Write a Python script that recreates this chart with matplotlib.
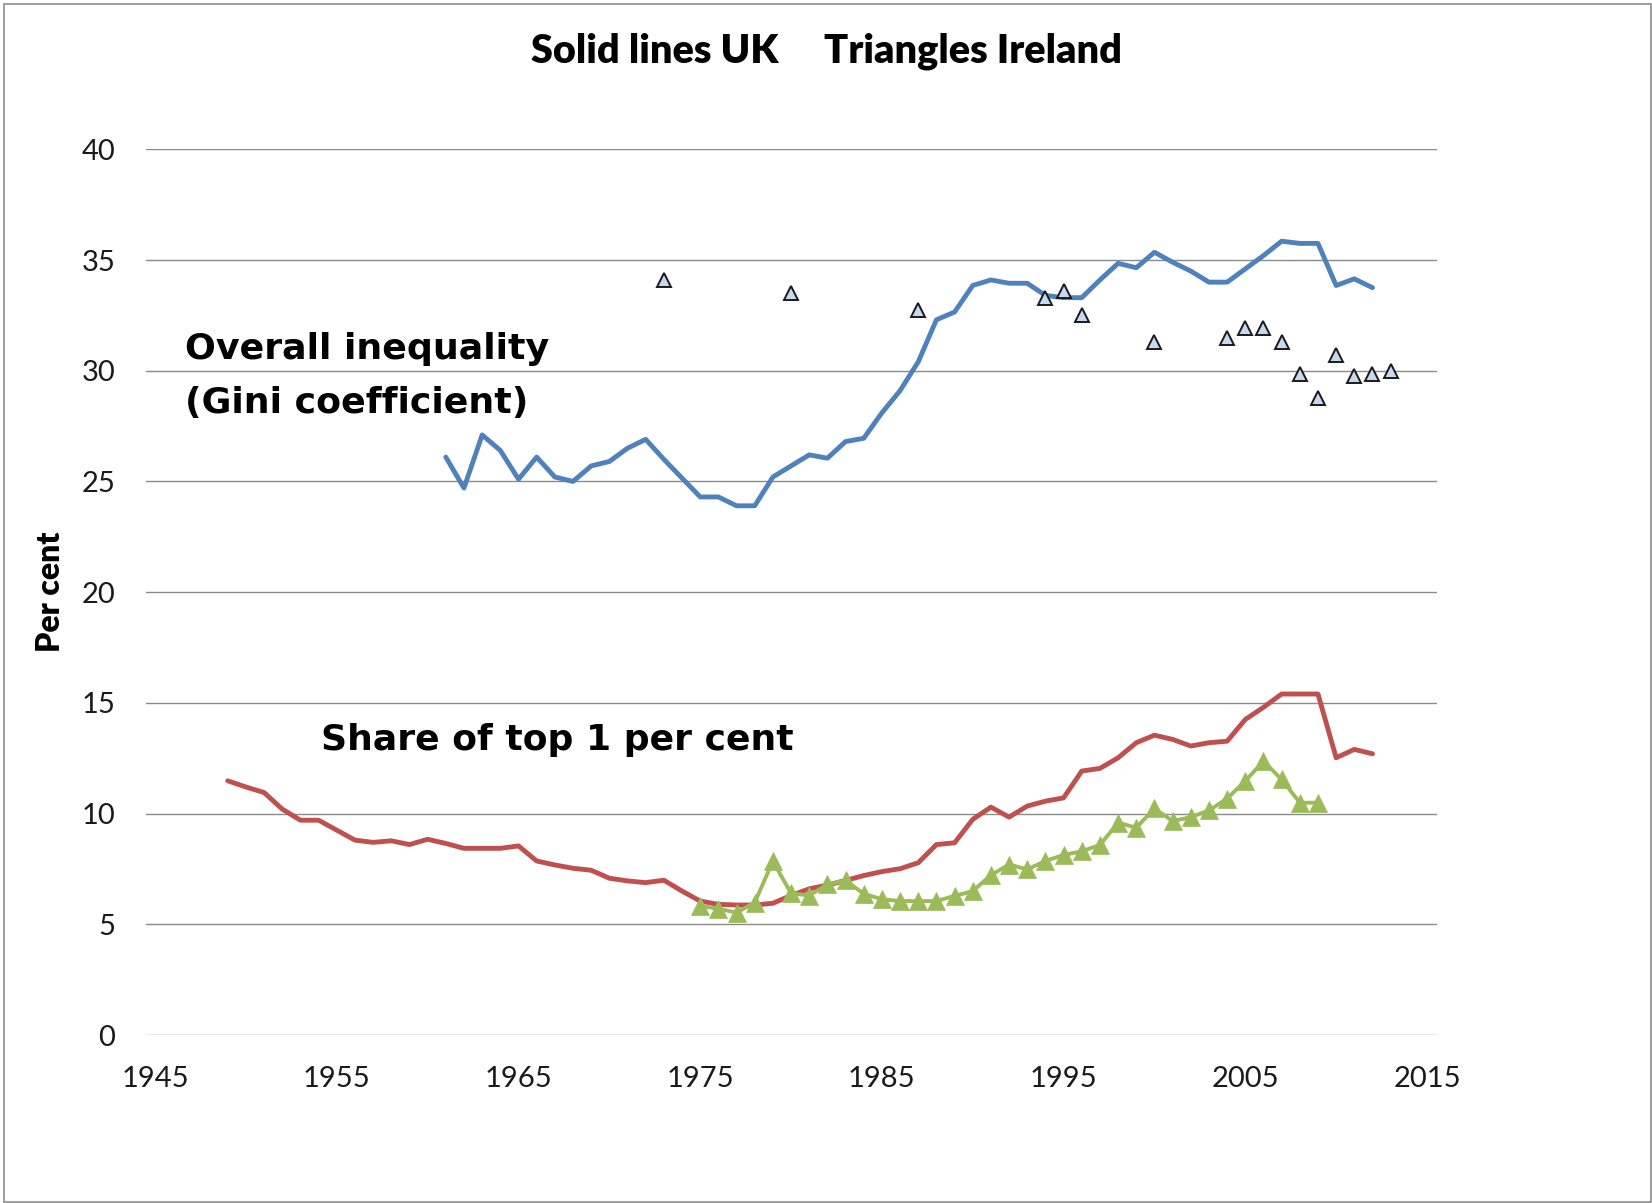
import matplotlib
matplotlib.use("Agg")
import matplotlib.pyplot as plt
from matplotlib.patches import Rectangle

# UK Gini coefficient, 1961-2012
uk_gini_years = list(range(1961, 2013))
uk_gini = [26.1, 24.7, 27.1, 26.4, 25.1, 26.1, 25.2, 25.0, 25.7, 25.9,
           26.5, 26.9, 26.0, 25.15, 24.3, 24.3, 23.9, 23.9, 25.2, 25.7,
           26.2, 26.05, 26.8, 26.95, 28.1, 29.1, 30.4, 32.3, 32.65, 33.85,
           34.1, 33.95, 33.95, 33.4, 33.3, 33.3, 34.1, 34.85, 34.65, 35.35,
           34.9, 34.5, 34.0, 34.0, 34.6, 35.2, 35.85, 35.75, 35.75, 33.85,
           34.15, 33.75]

# Ireland Gini coefficient (triangles)
ie_gini_years = [1973, 1980, 1987, 1994, 1995, 1996, 2000, 2004, 2005, 2006,
                 2007, 2008, 2009, 2010, 2011, 2012, 2013]
ie_gini = [34.1, 33.5, 32.75, 33.3, 33.6, 32.5, 31.3, 31.5, 31.95, 31.95,
           31.3, 29.85, 28.75, 30.7, 29.75, 29.85, 30.0]

# UK share of top 1 per cent, 1949-2012
uk_top1_years = list(range(1949, 2013))
uk_top1 = [11.48, 11.2, 10.95, 10.2, 9.7, 9.7, 9.25, 8.8, 8.7, 8.77,
           8.6, 8.84, 8.65, 8.43, 8.43, 8.43, 8.54, 7.86, 7.68, 7.53,
           7.44, 7.08, 6.96, 6.88, 6.99, 6.5, 6.05, 5.9, 5.87, 5.87,
           5.95, 6.3, 6.6, 6.77, 6.98, 7.2, 7.38, 7.51, 7.78, 8.6,
           8.68, 9.74, 10.29, 9.84, 10.34, 10.56, 10.71, 11.92, 12.04, 12.52,
           13.2, 13.54, 13.35, 13.05, 13.2, 13.27, 14.25, 14.8, 15.4, 15.4,
           15.4, 12.52, 12.9, 12.7]

# Ireland share of top 1 per cent, 1975-2009
ie_top1_years = list(range(1975, 2010))
ie_top1 = [5.83, 5.7, 5.53, 5.98, 7.85, 6.4, 6.3, 6.8, 6.98, 6.38,
           6.13, 6.05, 6.05, 6.05, 6.28, 6.5, 7.22, 7.7, 7.48, 7.86,
           8.13, 8.3, 8.58, 9.59, 9.36, 10.23, 9.66, 9.84, 10.14, 10.68,
           11.47, 12.37, 11.54, 10.49, 10.49]

x_ticks = [1945, 1955, 1965, 1975, 1985, 1995, 2005, 2015]
y_ticks = [0, 5, 10, 15, 20, 25, 30, 35, 40]

W, H = 1652, 1203
fig = plt.figure(figsize=(W / 100, H / 100), dpi=100)
fig.patch.set_facecolor("white")

# chart border
fig.patches.append(Rectangle((4 / W, 1 / H), (W - 5) / W, (H - 5) / H,
                             transform=fig.transFigure, fill=False,
                             edgecolor="#8c8c8c", linewidth=1.2))

ax = fig.add_axes([146 / W, 1 - 1035 / H, (1437 - 146) / W, (1035 - 149.3) / H])
ax.set_xlim(1944.5, 2015.55)
ax.set_ylim(0, 40)

ax.plot(uk_gini_years, uk_gini, color="#4F81BD", lw=3.5, solid_joinstyle="round",
        solid_capstyle="round")
ax.plot(uk_top1_years, uk_top1, color="#C0504D", lw=3.5, solid_joinstyle="round",
        solid_capstyle="round")
ax.plot(ie_top1_years, ie_top1, color="#9BBB59", lw=2.8, marker="^", ms=12.5,
        mfc="#9BBB59", mec="#9BBB59", mew=0.5)
ax.plot(ie_gini_years, ie_gini, ls="none", marker="^", ms=10.5,
        mfc="#C6D9F1", mec="#1a1a1a", mew=1.4)

ax.set_xticks(x_ticks)
ax.set_yticks(y_ticks)
ax.grid(axis="y", color="#8a8a8a", lw=1)
ax.set_axisbelow(True)
for s in ax.spines.values():
    s.set_visible(False)
ax.tick_params(length=0, labelsize=21, labelcolor="#1a1a1a")
ax.tick_params(axis="y", pad=22)
ax.tick_params(axis="x", pad=22)
for lab in ax.get_xticklabels() + ax.get_yticklabels():
    lab.set_family("Lato")

# titles and labels
fig.text(531 / W, 1 - 63 / H, "Solid lines UK", family="Lato", weight="heavy",
         fontsize=28.5, ha="left", va="baseline")
fig.text(824 / W, 1 - 63 / H, "Triangles Ireland", family="Lato", weight="heavy",
         fontsize=28.5, ha="left", va="baseline")
fig.text(50 / W, 1 - 592 / H, "Per cent", family="Lato", weight="heavy",
         fontsize=23, rotation=90, ha="center", va="center")

fig.text(185 / W, 1 - 359 / H, "Overall inequality", family="DejaVu Sans",
         weight="bold", fontsize=26.2, ha="left", va="baseline")
fig.text(185 / W, 1 - 413 / H, "(Gini coefficient)", family="DejaVu Sans",
         weight="bold", fontsize=26.2, ha="left", va="baseline")
fig.text(321 / W, 1 - 750 / H, "Share of top 1 per cent", family="DejaVu Sans",
         weight="bold", fontsize=26, ha="left", va="baseline")

fig.savefig("out.png", dpi=100, facecolor="white")
